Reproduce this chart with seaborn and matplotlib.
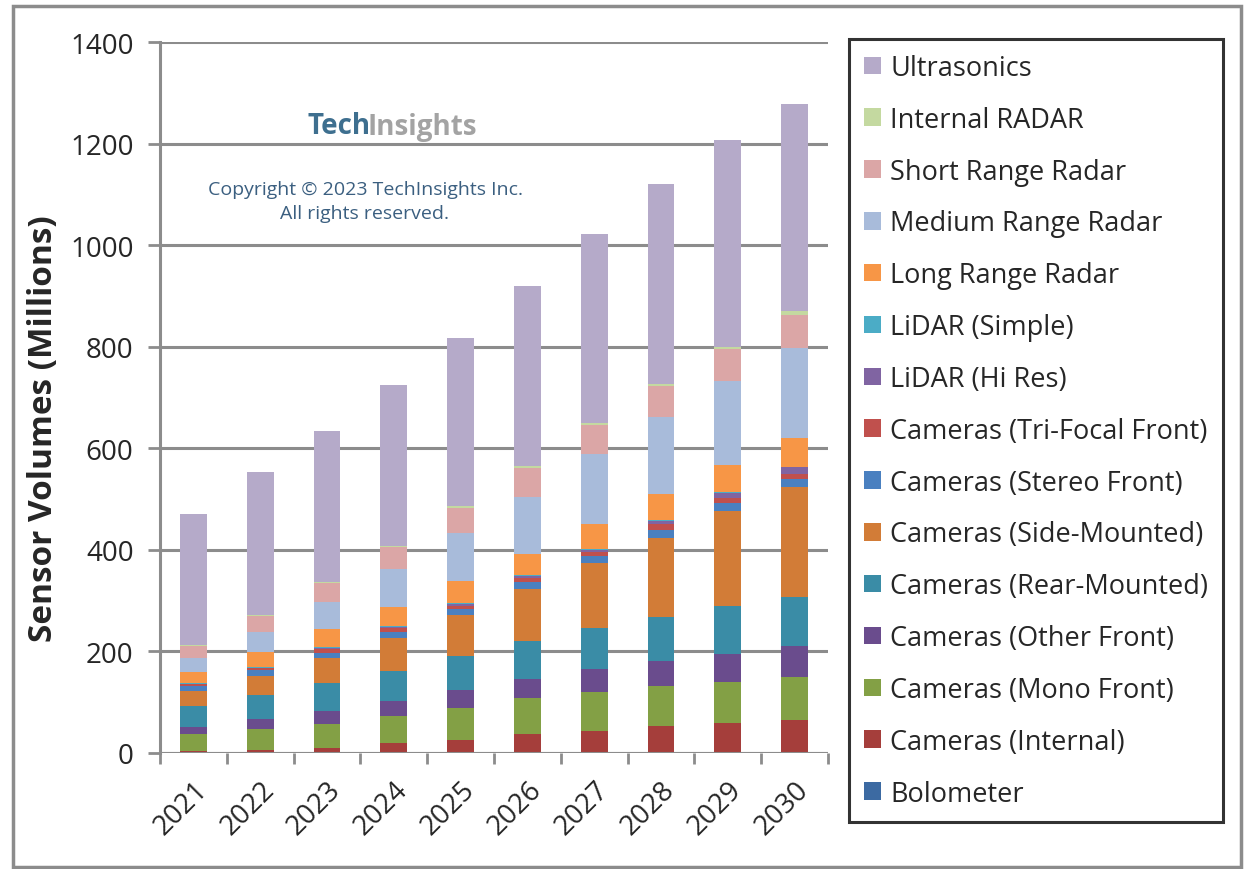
import matplotlib
matplotlib.use("Agg")
import matplotlib.pyplot as plt
from matplotlib.patches import Patch, Rectangle
import numpy as np
import pandas as pd
import seaborn as sns

years = ["2021", "2022", "2023", "2024", "2025", "2026", "2027", "2028", "2029", "2030"]

# series in stacking order (bottom -> top)
bolometer = [1, 1, 1, 1, 1, 1, 1, 1, 1, 2]
cam_internal = [2, 5, 9, 18, 25, 36, 43, 53, 58, 62]
cam_mono_front = [34, 42, 48, 54, 62, 71, 77, 78, 80, 85]
cam_other_front = [15, 19, 25, 29, 36, 38, 44, 50, 55, 61]
cam_rear = [41, 48, 54, 60, 67, 74, 81, 85, 96, 98]
cam_side = [30, 36, 50, 64, 81, 102, 128, 157, 187, 215]
cam_stereo = [9, 12, 9, 12, 11, 14, 14, 16, 16, 16]
cam_trifocal = [3, 4, 8, 8, 7, 8, 7, 10, 9, 10]
lidar_hires = [1, 1, 3, 3, 4, 5, 5, 7, 10, 14]
lidar_simple = [1, 1, 1, 1, 1, 1, 1, 1, 1, 1]
long_radar = [22, 29, 36, 37, 43, 42, 50, 52, 54, 57]
medium_radar = [29, 41, 54, 75, 96, 113, 138, 151, 166, 177]
short_radar = [23, 31, 37, 43, 49, 57, 56, 62, 62, 64]
internal_radar = [2, 2, 2, 2, 3, 3, 4, 3, 5, 8]
ultrasonics = [257, 282, 298, 317, 331, 355, 373, 394, 408, 408]

series_names = [
    "Bolometer", "Cameras (Internal)", "Cameras (Mono Front)", "Cameras (Other Front)",
    "Cameras (Rear-Mounted)", "Cameras (Side-Mounted)", "Cameras (Stereo Front)",
    "Cameras (Tri-Focal Front)", "LiDAR (Hi Res)", "LiDAR (Simple)",
    "Long Range Radar", "Medium Range Radar", "Short Range Radar",
    "Internal RADAR", "Ultrasonics",
]
series_values = [
    bolometer, cam_internal, cam_mono_front, cam_other_front, cam_rear, cam_side,
    cam_stereo, cam_trifocal, lidar_hires, lidar_simple, long_radar, medium_radar,
    short_radar, internal_radar, ultrasonics,
]
series_colors = [
    "#3C6AA2", "#A53E3B", "#83A045", "#6A4C8D", "#3A8CA6", "#D27C37",
    "#4A80C0", "#C0504D", "#8064A2", "#4BACC6", "#F79646", "#A8BBDA",
    "#DBA6A6", "#C4D9A0", "#B5AAC9",
]

sns.set_theme(style="white")
plt.rcParams["font.family"] = ["Open Sans", "DejaVu Sans"]

fig = plt.figure(figsize=(12.47, 8.70), dpi=100)
fig.patch.set_facecolor("white")
ax = fig.add_axes([160 / 1247, 116 / 870, 668 / 1247, 711 / 870])

# build long-form cumulative table
rows = []
cum = np.zeros(len(years))
for name, vals in zip(series_names, series_values):
    cum = cum + np.array(vals, dtype=float)
    for y, c in zip(years, cum):
        rows.append({"year": y, "series": name, "cum": c})
df = pd.DataFrame(rows)

# draw from top of stack down so lower segments overlay
for name, color in reversed(list(zip(series_names, series_colors))):
    sub = df[df["series"] == name]
    sns.barplot(data=sub, x="year", y="cum", color=color, width=0.4,
                saturation=1, ax=ax, zorder=3, edgecolor="none", linewidth=0)

ax.set_xlim(-0.5, 9.5)
ax.set_ylim(0, 1400)
ax.set_yticks(np.arange(0, 1401, 200))
ax.set_yticklabels([str(v) for v in range(0, 1401, 200)])
ax.yaxis.grid(True, color="#8c8c8c", linewidth=2.2, zorder=0)
ax.set_axisbelow(True)
for s in ["top", "right", "bottom"]:
    ax.spines[s].set_visible(False)
ax.spines["left"].set_color("#8c8c8c")
ax.spines["left"].set_linewidth(2.2)
ax.axhline(0, color="#8c8c8c", linewidth=2.2, zorder=4)

ax.tick_params(axis="y", which="major", direction="out", length=9, width=2,
               color="#8c8c8c", labelsize=20, pad=10, left=True)
ax.set_xticks(range(len(years)))
ax.set_xticklabels(years, rotation=45, ha="right", rotation_mode="anchor")
ax.tick_params(axis="x", which="major", length=0, labelsize=20, pad=16)
ax.set_xticks(np.arange(-0.5, 10, 1.0), minor=True)
ax.tick_params(axis="x", which="minor", direction="out", length=8, width=2,
               color="#8c8c8c", bottom=True)

ax.set_xlabel("")
ax.set_ylabel("Sensor Volumes (Millions)", fontsize=24, fontweight="bold")
ax.yaxis.set_label_coords(-0.15, 0.458)

# legend (reverse order, Ultrasonics at top)
handles = [Patch(facecolor=c, edgecolor="none") for c in reversed(series_colors)]
labels = list(reversed(series_names))
leg = fig.legend(handles, labels, loc="upper left",
                 bbox_to_anchor=(849 / 1247, 1 - 40 / 870),
                 frameon=True, fancybox=False, edgecolor="black",
                 prop={"size": 19.5},
                 handlelength=0.62, handleheight=0.62, handletextpad=0.35,
                 labelspacing=0.88, borderpad=0.55, borderaxespad=0)
leg.get_frame().set_linewidth(2.2)

# watermark
fig.text(371 / 1247, 1 - 127 / 870, "Tech", color="#3E6F8F", fontsize=20,
         fontweight="bold", ha="right", va="center")
fig.text(368 / 1247, 1 - 127 / 870, "Insights", color="#A3A3A3", fontsize=20,
         fontweight="bold", ha="left", va="center")
fig.text(365 / 1247, 1 - 190 / 870, "Copyright \u00a9 2023 TechInsights Inc.",
         color="#3B5F80", fontsize=14, ha="center", va="center")
fig.text(365 / 1247, 1 - 214 / 870, "All rights reserved.",
         color="#3B5F80", fontsize=14, ha="center", va="center")

# outer frame
fig.patches.append(Rectangle((13 / 1247, 2 / 870), 1228 / 1247, 861 / 870,
                             transform=fig.transFigure, fill=False,
                             edgecolor="#8c8c8c", linewidth=2.5))

fig.savefig("out.png", dpi=100, facecolor="white")
